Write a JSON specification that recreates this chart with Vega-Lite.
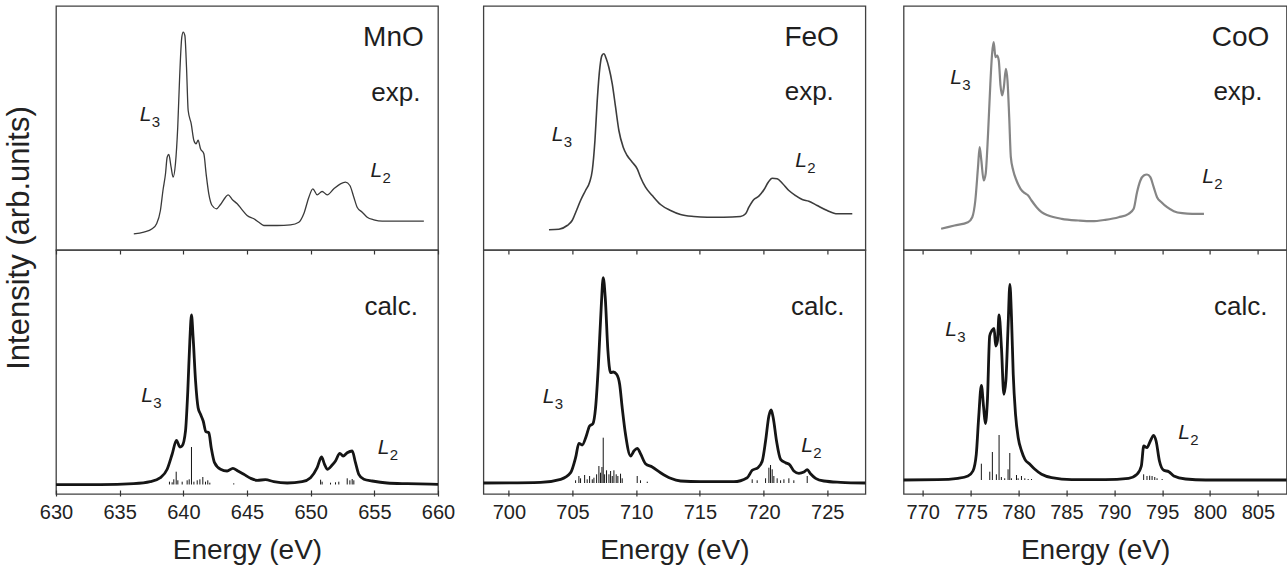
{
"$schema": "https://vega.github.io/schema/vega-lite/v6.json",
"padding": {"left": 3, "top": 5, "right": 2, "bottom": 0},
"background": "white",
"config": {
  "font": "Liberation Sans",
  "view": {"stroke": "#404040", "strokeWidth": 1.3},
  "axis": {"domain": false, "grid": false, "tickColor": "#333333", "tickWidth": 1.2, "labelFontSize": 20, "labelColor": "#222222", "titleFontSize": 28, "titleFontWeight": "normal", "titleColor": "#222222", "labelFlush": false, "labelOverlap": false},
  "text": {"fill": "#1e1e1e", "baseline": "alphabetic", "font": "Liberation Sans"}
},
"datasets": {
"spec": [
{"s":"MnO","k":"exp","E":636.11,"I":16.2},{"s":"MnO","k":"exp","E":636.9,"I":17.8},{"s":"MnO","k":"exp","E":637.55,"I":21.2},{"s":"MnO","k":"exp","E":637.9,"I":26.2},{"s":"MnO","k":"exp","E":638.2,"I":39.5},{"s":"MnO","k":"exp","E":638.4,"I":59.5},{"s":"MnO","k":"exp","E":638.6,"I":76.2},{"s":"MnO","k":"exp","E":638.73,"I":92.8},{"s":"MnO","k":"exp","E":638.86,"I":95.5},{"s":"MnO","k":"exp","E":639.04,"I":82.8},{"s":"MnO","k":"exp","E":639.2,"I":72.8},{"s":"MnO","k":"exp","E":639.38,"I":86.2},{"s":"MnO","k":"exp","E":639.56,"I":122.8},{"s":"MnO","k":"exp","E":639.72,"I":176.2},{"s":"MnO","k":"exp","E":639.88,"I":212.8},{"s":"MnO","k":"exp","E":639.99,"I":217.8},{"s":"MnO","k":"exp","E":640.12,"I":214.5},{"s":"MnO","k":"exp","E":640.25,"I":182.8},{"s":"MnO","k":"exp","E":640.38,"I":139.5},{"s":"MnO","k":"exp","E":640.62,"I":126.2},{"s":"MnO","k":"exp","E":640.83,"I":109.5},{"s":"MnO","k":"exp","E":641.0,"I":106.2},{"s":"MnO","k":"exp","E":641.16,"I":109.8},{"s":"MnO","k":"exp","E":641.35,"I":101.2},{"s":"MnO","k":"exp","E":641.61,"I":96.2},{"s":"MnO","k":"exp","E":641.79,"I":76.2},{"s":"MnO","k":"exp","E":642.0,"I":56.2},{"s":"MnO","k":"exp","E":642.26,"I":44.5},{"s":"MnO","k":"exp","E":642.6,"I":41.2},{"s":"MnO","k":"exp","E":642.92,"I":45.5},{"s":"MnO","k":"exp","E":643.31,"I":52.8},{"s":"MnO","k":"exp","E":643.52,"I":55.2},{"s":"MnO","k":"exp","E":643.84,"I":50.5},{"s":"MnO","k":"exp","E":644.23,"I":46.2},{"s":"MnO","k":"exp","E":644.62,"I":40.2},{"s":"MnO","k":"exp","E":645.01,"I":34.5},{"s":"MnO","k":"exp","E":645.54,"I":31.2},{"s":"MnO","k":"exp","E":645.93,"I":27.8},{"s":"MnO","k":"exp","E":646.32,"I":24.5},{"s":"MnO","k":"exp","E":647.37,"I":24.5},{"s":"MnO","k":"exp","E":648.42,"I":25.2},{"s":"MnO","k":"exp","E":649.07,"I":27.8},{"s":"MnO","k":"exp","E":649.46,"I":36.2},{"s":"MnO","k":"exp","E":649.86,"I":52.8},{"s":"MnO","k":"exp","E":650.17,"I":61.2},{"s":"MnO","k":"exp","E":650.51,"I":55.2},{"s":"MnO","k":"exp","E":650.9,"I":58.5},{"s":"MnO","k":"exp","E":651.3,"I":55.2},{"s":"MnO","k":"exp","E":651.82,"I":61.2},{"s":"MnO","k":"exp","E":652.34,"I":66.2},{"s":"MnO","k":"exp","E":652.74,"I":67.8},{"s":"MnO","k":"exp","E":653.08,"I":64.5},{"s":"MnO","k":"exp","E":653.39,"I":52.8},{"s":"MnO","k":"exp","E":653.65,"I":42.8},{"s":"MnO","k":"exp","E":654.05,"I":37.8},{"s":"MnO","k":"exp","E":654.44,"I":32.8},{"s":"MnO","k":"exp","E":654.96,"I":30.2},{"s":"MnO","k":"exp","E":655.62,"I":28.8},{"s":"MnO","k":"exp","E":657.06,"I":28.8},{"s":"MnO","k":"exp","E":658.89,"I":28.8},
{"s":"MnO","k":"calc","E":630,"I":9.3},{"s":"MnO","k":"calc","E":633.5,"I":9.3},{"s":"MnO","k":"calc","E":636.1,"I":10.3},{"s":"MnO","k":"calc","E":637.4,"I":12.3},{"s":"MnO","k":"calc","E":638.2,"I":16.3},{"s":"MnO","k":"calc","E":638.73,"I":24.7},{"s":"MnO","k":"calc","E":639.12,"I":39.7},{"s":"MnO","k":"calc","E":639.46,"I":53.7},{"s":"MnO","k":"calc","E":639.73,"I":47},{"s":"MnO","k":"calc","E":639.9,"I":48},{"s":"MnO","k":"calc","E":640.17,"I":63},{"s":"MnO","k":"calc","E":640.35,"I":103},{"s":"MnO","k":"calc","E":640.51,"I":153},{"s":"MnO","k":"calc","E":640.64,"I":179},{"s":"MnO","k":"calc","E":640.77,"I":156.3},{"s":"MnO","k":"calc","E":640.96,"I":113},{"s":"MnO","k":"calc","E":641.16,"I":86.3},{"s":"MnO","k":"calc","E":641.35,"I":79.7},{"s":"MnO","k":"calc","E":641.56,"I":73},{"s":"MnO","k":"calc","E":641.77,"I":62.3},{"s":"MnO","k":"calc","E":642.0,"I":61.3},{"s":"MnO","k":"calc","E":642.19,"I":46.3},{"s":"MnO","k":"calc","E":642.45,"I":31.3},{"s":"MnO","k":"calc","E":642.92,"I":24.7},{"s":"MnO","k":"calc","E":643.44,"I":23},{"s":"MnO","k":"calc","E":643.89,"I":25.7},{"s":"MnO","k":"calc","E":644.28,"I":23},{"s":"MnO","k":"calc","E":644.75,"I":19.7},{"s":"MnO","k":"calc","E":645.28,"I":15.7},{"s":"MnO","k":"calc","E":645.8,"I":13.7},{"s":"MnO","k":"calc","E":646.45,"I":14.3},{"s":"MnO","k":"calc","E":647.1,"I":12.3},{"s":"MnO","k":"calc","E":648.16,"I":11},{"s":"MnO","k":"calc","E":649.33,"I":12.3},{"s":"MnO","k":"calc","E":649.99,"I":16.3},{"s":"MnO","k":"calc","E":650.51,"I":26.3},{"s":"MnO","k":"calc","E":650.85,"I":37},{"s":"MnO","k":"calc","E":651.09,"I":29.7},{"s":"MnO","k":"calc","E":651.3,"I":24.7},{"s":"MnO","k":"calc","E":651.69,"I":29},{"s":"MnO","k":"calc","E":651.95,"I":33},{"s":"MnO","k":"calc","E":652.29,"I":40.7},{"s":"MnO","k":"calc","E":652.55,"I":38},{"s":"MnO","k":"calc","E":652.87,"I":41.3},{"s":"MnO","k":"calc","E":653.26,"I":43},{"s":"MnO","k":"calc","E":653.52,"I":31.3},{"s":"MnO","k":"calc","E":653.78,"I":19.7},{"s":"MnO","k":"calc","E":654.18,"I":14.7},{"s":"MnO","k":"calc","E":654.83,"I":13},{"s":"MnO","k":"calc","E":656.0,"I":11},{"s":"MnO","k":"calc","E":657.6,"I":10.3},{"s":"MnO","k":"calc","E":660,"I":9.7},
{"s":"MnO","k":"stick","E":638.91,"I":12.3},{"s":"MnO","k":"stick","E":639.12,"I":11.7},{"s":"MnO","k":"stick","E":639.25,"I":14.7},{"s":"MnO","k":"stick","E":639.44,"I":22.3},{"s":"MnO","k":"stick","E":639.57,"I":13.7},{"s":"MnO","k":"stick","E":639.91,"I":12.3},{"s":"MnO","k":"stick","E":640.3,"I":13.7},{"s":"MnO","k":"stick","E":640.46,"I":14.7},{"s":"MnO","k":"stick","E":640.64,"I":47},{"s":"MnO","k":"stick","E":640.83,"I":12.3},{"s":"MnO","k":"stick","E":641.09,"I":13.7},{"s":"MnO","k":"stick","E":641.3,"I":14.7},{"s":"MnO","k":"stick","E":641.53,"I":17},{"s":"MnO","k":"stick","E":641.74,"I":12.3},{"s":"MnO","k":"stick","E":641.92,"I":13.7},{"s":"MnO","k":"stick","E":642.08,"I":11.3},{"s":"MnO","k":"stick","E":643.96,"I":10.7},{"s":"MnO","k":"stick","E":650.78,"I":14.3},{"s":"MnO","k":"stick","E":650.9,"I":12.3},{"s":"MnO","k":"stick","E":651.56,"I":11.3},{"s":"MnO","k":"stick","E":651.95,"I":11.7},{"s":"MnO","k":"stick","E":652.21,"I":12.3},{"s":"MnO","k":"stick","E":652.87,"I":15.7},{"s":"MnO","k":"stick","E":653.08,"I":13.7},{"s":"MnO","k":"stick","E":653.26,"I":15},{"s":"MnO","k":"stick","E":653.39,"I":13.7},
{"s":"FeO","k":"exp","E":703.15,"I":20.2},{"s":"FeO","k":"exp","E":703.93,"I":20.8},{"s":"FeO","k":"exp","E":704.58,"I":24.5},{"s":"FeO","k":"exp","E":704.97,"I":29.5},{"s":"FeO","k":"exp","E":705.31,"I":39.5},{"s":"FeO","k":"exp","E":705.63,"I":49.5},{"s":"FeO","k":"exp","E":706.02,"I":59.5},{"s":"FeO","k":"exp","E":706.34,"I":67.8},{"s":"FeO","k":"exp","E":706.55,"I":79.5},{"s":"FeO","k":"exp","E":706.76,"I":109.5},{"s":"FeO","k":"exp","E":706.94,"I":149.5},{"s":"FeO","k":"exp","E":707.15,"I":182.8},{"s":"FeO","k":"exp","E":707.31,"I":194.5},{"s":"FeO","k":"exp","E":707.46,"I":196.2},{"s":"FeO","k":"exp","E":707.65,"I":191.2},{"s":"FeO","k":"exp","E":707.85,"I":182.8},{"s":"FeO","k":"exp","E":708.12,"I":166.2},{"s":"FeO","k":"exp","E":708.38,"I":142.8},{"s":"FeO","k":"exp","E":708.64,"I":119.5},{"s":"FeO","k":"exp","E":708.98,"I":102.8},{"s":"FeO","k":"exp","E":709.29,"I":94.5},{"s":"FeO","k":"exp","E":709.69,"I":87.8},{"s":"FeO","k":"exp","E":710.08,"I":81.2},{"s":"FeO","k":"exp","E":710.34,"I":72.8},{"s":"FeO","k":"exp","E":710.73,"I":62.8},{"s":"FeO","k":"exp","E":711.26,"I":54.5},{"s":"FeO","k":"exp","E":711.91,"I":45.5},{"s":"FeO","k":"exp","E":712.7,"I":39.5},{"s":"FeO","k":"exp","E":713.48,"I":35.5},{"s":"FeO","k":"exp","E":714.53,"I":33.5},{"s":"FeO","k":"exp","E":715.58,"I":32.8},{"s":"FeO","k":"exp","E":716.88,"I":32.8},{"s":"FeO","k":"exp","E":718.19,"I":33.5},{"s":"FeO","k":"exp","E":718.59,"I":36.2},{"s":"FeO","k":"exp","E":718.85,"I":42.8},{"s":"FeO","k":"exp","E":719.24,"I":50.5},{"s":"FeO","k":"exp","E":719.63,"I":53.8},{"s":"FeO","k":"exp","E":720.03,"I":60.2},{"s":"FeO","k":"exp","E":720.37,"I":67.8},{"s":"FeO","k":"exp","E":720.68,"I":71.8},{"s":"FeO","k":"exp","E":721.07,"I":71.2},{"s":"FeO","k":"exp","E":721.47,"I":66.8},{"s":"FeO","k":"exp","E":721.99,"I":59.5},{"s":"FeO","k":"exp","E":722.51,"I":54.5},{"s":"FeO","k":"exp","E":723.04,"I":50.5},{"s":"FeO","k":"exp","E":723.56,"I":48.8},{"s":"FeO","k":"exp","E":724.21,"I":44.5},{"s":"FeO","k":"exp","E":725.0,"I":39.5},{"s":"FeO","k":"exp","E":725.79,"I":36.2},{"s":"FeO","k":"exp","E":726.97,"I":36.2},
{"s":"FeO","k":"calc","E":698,"I":11},{"s":"FeO","k":"calc","E":702.5,"I":11.7},{"s":"FeO","k":"calc","E":704.07,"I":14.7},{"s":"FeO","k":"calc","E":704.85,"I":21.3},{"s":"FeO","k":"calc","E":705.24,"I":36.3},{"s":"FeO","k":"calc","E":705.5,"I":50.7},{"s":"FeO","k":"calc","E":705.76,"I":49},{"s":"FeO","k":"calc","E":706.08,"I":58},{"s":"FeO","k":"calc","E":706.34,"I":68},{"s":"FeO","k":"calc","E":706.6,"I":70.3},{"s":"FeO","k":"calc","E":706.81,"I":86.3},{"s":"FeO","k":"calc","E":707.02,"I":126.3},{"s":"FeO","k":"calc","E":707.25,"I":186.3},{"s":"FeO","k":"calc","E":707.41,"I":216.3},{"s":"FeO","k":"calc","E":707.57,"I":196.3},{"s":"FeO","k":"calc","E":707.78,"I":143},{"s":"FeO","k":"calc","E":707.99,"I":121.3},{"s":"FeO","k":"calc","E":708.2,"I":122},{"s":"FeO","k":"calc","E":708.46,"I":119.7},{"s":"FeO","k":"calc","E":708.7,"I":109.7},{"s":"FeO","k":"calc","E":708.9,"I":86.3},{"s":"FeO","k":"calc","E":709.16,"I":59.7},{"s":"FeO","k":"calc","E":709.56,"I":38},{"s":"FeO","k":"calc","E":709.82,"I":43},{"s":"FeO","k":"calc","E":710.08,"I":45.7},{"s":"FeO","k":"calc","E":710.34,"I":40.3},{"s":"FeO","k":"calc","E":710.73,"I":30.3},{"s":"FeO","k":"calc","E":711.26,"I":27},{"s":"FeO","k":"calc","E":711.91,"I":21.3},{"s":"FeO","k":"calc","E":712.7,"I":15.7},{"s":"FeO","k":"calc","E":713.48,"I":13},{"s":"FeO","k":"calc","E":715.05,"I":12.3},{"s":"FeO","k":"calc","E":717.67,"I":12.3},{"s":"FeO","k":"calc","E":718.72,"I":16.3},{"s":"FeO","k":"calc","E":719.11,"I":23.7},{"s":"FeO","k":"calc","E":719.56,"I":26.3},{"s":"FeO","k":"calc","E":719.9,"I":33},{"s":"FeO","k":"calc","E":720.16,"I":53},{"s":"FeO","k":"calc","E":720.42,"I":78},{"s":"FeO","k":"calc","E":720.6,"I":84},{"s":"FeO","k":"calc","E":720.76,"I":76.3},{"s":"FeO","k":"calc","E":721.02,"I":53},{"s":"FeO","k":"calc","E":721.34,"I":34.7},{"s":"FeO","k":"calc","E":721.73,"I":31.3},{"s":"FeO","k":"calc","E":722.07,"I":29},{"s":"FeO","k":"calc","E":722.38,"I":23},{"s":"FeO","k":"calc","E":722.78,"I":20.7},{"s":"FeO","k":"calc","E":723.17,"I":22},{"s":"FeO","k":"calc","E":723.43,"I":24.3},{"s":"FeO","k":"calc","E":723.69,"I":20.3},{"s":"FeO","k":"calc","E":724.09,"I":15.7},{"s":"FeO","k":"calc","E":724.74,"I":13},{"s":"FeO","k":"calc","E":726.05,"I":11.7},{"s":"FeO","k":"calc","E":728,"I":11},
{"s":"FeO","k":"stick","E":705.24,"I":13.7},{"s":"FeO","k":"stick","E":705.5,"I":18},{"s":"FeO","k":"stick","E":705.63,"I":15.7},{"s":"FeO","k":"stick","E":705.95,"I":19},{"s":"FeO","k":"stick","E":706.15,"I":14.7},{"s":"FeO","k":"stick","E":706.34,"I":18},{"s":"FeO","k":"stick","E":706.55,"I":14.7},{"s":"FeO","k":"stick","E":706.68,"I":16.3},{"s":"FeO","k":"stick","E":706.89,"I":19.7},{"s":"FeO","k":"stick","E":707.07,"I":28},{"s":"FeO","k":"stick","E":707.2,"I":21.3},{"s":"FeO","k":"stick","E":707.31,"I":27},{"s":"FeO","k":"stick","E":707.41,"I":56.3},{"s":"FeO","k":"stick","E":707.52,"I":19.7},{"s":"FeO","k":"stick","E":707.67,"I":23.7},{"s":"FeO","k":"stick","E":707.86,"I":19.7},{"s":"FeO","k":"stick","E":707.99,"I":23},{"s":"FeO","k":"stick","E":708.12,"I":18},{"s":"FeO","k":"stick","E":708.25,"I":23.7},{"s":"FeO","k":"stick","E":708.43,"I":19.7},{"s":"FeO","k":"stick","E":708.56,"I":18},{"s":"FeO","k":"stick","E":708.77,"I":20.3},{"s":"FeO","k":"stick","E":708.9,"I":15.7},{"s":"FeO","k":"stick","E":710.08,"I":18},{"s":"FeO","k":"stick","E":710.34,"I":13.7},{"s":"FeO","k":"stick","E":710.87,"I":12.3},{"s":"FeO","k":"stick","E":719.11,"I":14.7},{"s":"FeO","k":"stick","E":719.5,"I":13.7},{"s":"FeO","k":"stick","E":720.16,"I":15.7},{"s":"FeO","k":"stick","E":720.42,"I":26.3},{"s":"FeO","k":"stick","E":720.55,"I":29},{"s":"FeO","k":"stick","E":720.68,"I":24.7},{"s":"FeO","k":"stick","E":720.81,"I":18},{"s":"FeO","k":"stick","E":721.07,"I":15.7},{"s":"FeO","k":"stick","E":721.34,"I":13.7},{"s":"FeO","k":"stick","E":721.6,"I":14.7},{"s":"FeO","k":"stick","E":721.99,"I":15.7},{"s":"FeO","k":"stick","E":722.38,"I":13.7},{"s":"FeO","k":"stick","E":723.43,"I":18},
{"s":"CoO","k":"exp","E":771.92,"I":21.2},{"s":"CoO","k":"exp","E":773.32,"I":24.5},{"s":"CoO","k":"exp","E":774.72,"I":27.8},{"s":"CoO","k":"exp","E":775.17,"I":32.8},{"s":"CoO","k":"exp","E":775.49,"I":49.5},{"s":"CoO","k":"exp","E":775.77,"I":82.8},{"s":"CoO","k":"exp","E":775.94,"I":102.8},{"s":"CoO","k":"exp","E":776.12,"I":89.5},{"s":"CoO","k":"exp","E":776.36,"I":69.5},{"s":"CoO","k":"exp","E":776.57,"I":76.2},{"s":"CoO","k":"exp","E":776.82,"I":116.2},{"s":"CoO","k":"exp","E":777.06,"I":166.2},{"s":"CoO","k":"exp","E":777.24,"I":196.2},{"s":"CoO","k":"exp","E":777.41,"I":207.8},{"s":"CoO","k":"exp","E":777.59,"I":192.8},{"s":"CoO","k":"exp","E":777.77,"I":194.5},{"s":"CoO","k":"exp","E":777.94,"I":189.5},{"s":"CoO","k":"exp","E":778.12,"I":164.5},{"s":"CoO","k":"exp","E":778.29,"I":154.5},{"s":"CoO","k":"exp","E":778.47,"I":162.8},{"s":"CoO","k":"exp","E":778.68,"I":181.2},{"s":"CoO","k":"exp","E":778.85,"I":169.5},{"s":"CoO","k":"exp","E":779.03,"I":132.8},{"s":"CoO","k":"exp","E":779.2,"I":92.8},{"s":"CoO","k":"exp","E":779.45,"I":79.5},{"s":"CoO","k":"exp","E":779.79,"I":69.5},{"s":"CoO","k":"exp","E":780.21,"I":61.2},{"s":"CoO","k":"exp","E":780.67,"I":56.8},{"s":"CoO","k":"exp","E":781.01,"I":54.5},{"s":"CoO","k":"exp","E":781.36,"I":49.5},{"s":"CoO","k":"exp","E":781.89,"I":42.8},{"s":"CoO","k":"exp","E":782.41,"I":37.8},{"s":"CoO","k":"exp","E":783.11,"I":34.5},{"s":"CoO","k":"exp","E":784.51,"I":31.2},{"s":"CoO","k":"exp","E":786.26,"I":29.5},{"s":"CoO","k":"exp","E":787.66,"I":28.8},{"s":"CoO","k":"exp","E":789.06,"I":30.2},{"s":"CoO","k":"exp","E":790.46,"I":32.8},{"s":"CoO","k":"exp","E":791.5,"I":36.2},{"s":"CoO","k":"exp","E":792.03,"I":41.2},{"s":"CoO","k":"exp","E":792.38,"I":57.8},{"s":"CoO","k":"exp","E":792.73,"I":69.5},{"s":"CoO","k":"exp","E":793.08,"I":74.5},{"s":"CoO","k":"exp","E":793.42,"I":75.5},{"s":"CoO","k":"exp","E":793.77,"I":72.8},{"s":"CoO","k":"exp","E":794.12,"I":62.8},{"s":"CoO","k":"exp","E":794.47,"I":52.8},{"s":"CoO","k":"exp","E":794.93,"I":47.8},{"s":"CoO","k":"exp","E":795.52,"I":42.8},{"s":"CoO","k":"exp","E":796.22,"I":38.8},{"s":"CoO","k":"exp","E":797.1,"I":36.8},{"s":"CoO","k":"exp","E":798.15,"I":36.2},{"s":"CoO","k":"exp","E":799.37,"I":36.2},
{"s":"CoO","k":"calc","E":768,"I":14},{"s":"CoO","k":"calc","E":771.57,"I":14.3},{"s":"CoO","k":"calc","E":773.67,"I":15.7},{"s":"CoO","k":"calc","E":774.72,"I":18},{"s":"CoO","k":"calc","E":775.24,"I":23},{"s":"CoO","k":"calc","E":775.59,"I":39.7},{"s":"CoO","k":"calc","E":775.84,"I":76.3},{"s":"CoO","k":"calc","E":776.12,"I":108.7},{"s":"CoO","k":"calc","E":776.36,"I":86.3},{"s":"CoO","k":"calc","E":776.54,"I":70.3},{"s":"CoO","k":"calc","E":776.75,"I":93},{"s":"CoO","k":"calc","E":776.99,"I":158},{"s":"CoO","k":"calc","E":777.24,"I":163.7},{"s":"CoO","k":"calc","E":777.45,"I":165.7},{"s":"CoO","k":"calc","E":777.62,"I":148},{"s":"CoO","k":"calc","E":777.8,"I":153},{"s":"CoO","k":"calc","E":777.97,"I":179},{"s":"CoO","k":"calc","E":778.22,"I":146.3},{"s":"CoO","k":"calc","E":778.47,"I":99.7},{"s":"CoO","k":"calc","E":778.68,"I":113},{"s":"CoO","k":"calc","E":778.92,"I":169.7},{"s":"CoO","k":"calc","E":779.1,"I":209.7},{"s":"CoO","k":"calc","E":779.27,"I":176.3},{"s":"CoO","k":"calc","E":779.45,"I":119.7},{"s":"CoO","k":"calc","E":779.69,"I":79.7},{"s":"CoO","k":"calc","E":779.97,"I":56.3},{"s":"CoO","k":"calc","E":780.32,"I":43},{"s":"CoO","k":"calc","E":780.67,"I":34.7},{"s":"CoO","k":"calc","E":781.19,"I":29.7},{"s":"CoO","k":"calc","E":781.71,"I":24.7},{"s":"CoO","k":"calc","E":782.41,"I":19.7},{"s":"CoO","k":"calc","E":783.46,"I":16.3},{"s":"CoO","k":"calc","E":785.56,"I":14.3},{"s":"CoO","k":"calc","E":789.06,"I":14.3},{"s":"CoO","k":"calc","E":791.5,"I":15.7},{"s":"CoO","k":"calc","E":792.38,"I":19.7},{"s":"CoO","k":"calc","E":792.83,"I":28},{"s":"CoO","k":"calc","E":793.08,"I":48},{"s":"CoO","k":"calc","E":793.42,"I":46.3},{"s":"CoO","k":"calc","E":793.77,"I":53},{"s":"CoO","k":"calc","E":794.12,"I":58.7},{"s":"CoO","k":"calc","E":794.37,"I":53},{"s":"CoO","k":"calc","E":794.72,"I":33},{"s":"CoO","k":"calc","E":795.17,"I":23.7},{"s":"CoO","k":"calc","E":795.7,"I":22.3},{"s":"CoO","k":"calc","E":796.22,"I":18},{"s":"CoO","k":"calc","E":797.45,"I":15},{"s":"CoO","k":"calc","E":799.55,"I":14},{"s":"CoO","k":"calc","E":808,"I":14},
{"s":"CoO","k":"stick","E":776.12,"I":30.3},{"s":"CoO","k":"stick","E":777.0,"I":22.3},{"s":"CoO","k":"stick","E":777.27,"I":42},{"s":"CoO","k":"stick","E":777.69,"I":19.7},{"s":"CoO","k":"stick","E":777.97,"I":59},{"s":"CoO","k":"stick","E":778.21,"I":17},{"s":"CoO","k":"stick","E":778.56,"I":15.7},{"s":"CoO","k":"stick","E":778.91,"I":24.7},{"s":"CoO","k":"stick","E":779.09,"I":41},{"s":"CoO","k":"stick","E":779.26,"I":15.7},{"s":"CoO","k":"stick","E":779.79,"I":19},{"s":"CoO","k":"stick","E":779.96,"I":15.7},{"s":"CoO","k":"stick","E":780.31,"I":18},{"s":"CoO","k":"stick","E":780.66,"I":15.7},{"s":"CoO","k":"stick","E":781.01,"I":15},{"s":"CoO","k":"stick","E":781.36,"I":15},{"s":"CoO","k":"stick","E":793.07,"I":19.7},{"s":"CoO","k":"stick","E":793.42,"I":18},{"s":"CoO","k":"stick","E":793.7,"I":18.3},{"s":"CoO","k":"stick","E":793.95,"I":18},{"s":"CoO","k":"stick","E":794.23,"I":17},{"s":"CoO","k":"stick","E":794.47,"I":15.7},{"s":"CoO","k":"stick","E":795.0,"I":15}
],
"labels": [
{"s":"MnO","k":"exp","r":"n","t":"MnO","E":658.88,"I":203.8},
{"s":"MnO","k":"exp","r":"m","t":"exp.","E":658.62,"I":149.5},
{"s":"MnO","k":"exp","r":"L","t":"L","u":"3","E":636.58,"I":129.5},
{"s":"MnO","k":"exp","r":"L","t":"L","u":"2","E":654.7,"I":72.8},
{"s":"MnO","k":"calc","r":"m","t":"calc.","E":658.42,"I":179},
{"s":"MnO","k":"calc","r":"L","t":"L","u":"3","E":636.69,"I":92.3},
{"s":"MnO","k":"calc","r":"L","t":"L","u":"2","E":655.27,"I":39.7},
{"s":"FeO","k":"exp","r":"n","t":"FeO","E":725.92,"I":203.8},
{"s":"FeO","k":"exp","r":"m","t":"exp.","E":725.52,"I":150.2},
{"s":"FeO","k":"exp","r":"L","t":"L","u":"3","E":703.36,"I":109.5},
{"s":"FeO","k":"exp","r":"L","t":"L","u":"2","E":722.5,"I":82.8},
{"s":"FeO","k":"calc","r":"m","t":"calc.","E":726.36,"I":179},
{"s":"FeO","k":"calc","r":"L","t":"L","u":"3","E":702.67,"I":91.3},
{"s":"FeO","k":"calc","r":"L","t":"L","u":"2","E":722.96,"I":42},
{"s":"CoO","k":"exp","r":"n","t":"CoO","E":806.19,"I":203.8},
{"s":"CoO","k":"exp","r":"m","t":"exp.","E":805.49,"I":150.2},
{"s":"CoO","k":"exp","r":"L","t":"L","u":"3","E":772.87,"I":166.2},
{"s":"CoO","k":"exp","r":"L","t":"L","u":"2","E":799.2,"I":66.8},
{"s":"CoO","k":"calc","r":"m","t":"calc.","E":806.01,"I":179},
{"s":"CoO","k":"calc","r":"L","t":"L","u":"3","E":772.34,"I":158},
{"s":"CoO","k":"calc","r":"L","t":"L","u":"2","E":796.68,"I":54.7}
]
},
"hconcat": [
{
 "title": {"text": "Intensity (arb.units)", "orient": "left", "anchor": "middle", "fontSize": 31, "fontWeight": "normal", "color": "#222222", "offset": 3, "dx": 47},
 "spacing": 0,
 "bounds": "flush",
 "vconcat": [
  {"width": 382, "height": 244,
   "layer": [
    {"data": {"name": "spec"}, "transform": [{"filter": "datum.s==='MnO' && datum.k==='exp'"}],
     "mark": {"type": "line", "interpolate": "monotone", "stroke": "#3a3a3a", "strokeWidth": 1.3},
     "encoding": {"x": {"field": "E", "type": "quantitative", "scale": {"domain": [630, 660], "nice": false, "zero": false}, "axis": {"orient": "bottom", "values": [630,635,640,645,650,655,660], "labels": false, "title": null, "offset": -4, "tickSize": 4}},
                  "y": {"field": "I", "type": "quantitative", "scale": {"domain": [0, 244], "nice": false, "zero": false}, "axis": null}}},
    {"data": {"name": "labels"}, "transform": [{"filter": "datum.s==='MnO' && datum.k==='exp' && datum.r==='n'"}],
     "mark": {"type": "text", "align": "right", "fontSize": 28},
     "encoding": {"x": {"field": "E", "type": "quantitative", "axis": null}, "y": {"field": "I", "type": "quantitative", "axis": null}, "text": {"field": "t"}}},
    {"data": {"name": "labels"}, "transform": [{"filter": "datum.s==='MnO' && datum.k==='exp' && datum.r==='m'"}],
     "mark": {"type": "text", "align": "right", "fontSize": 26},
     "encoding": {"x": {"field": "E", "type": "quantitative", "axis": null}, "y": {"field": "I", "type": "quantitative", "axis": null}, "text": {"field": "t"}}},
    {"data": {"name": "labels"}, "transform": [{"filter": "datum.s==='MnO' && datum.k==='exp' && datum.r==='L'"}],
     "mark": {"type": "text", "align": "left", "fontSize": 21, "fontStyle": "italic"},
     "encoding": {"x": {"field": "E", "type": "quantitative", "axis": null}, "y": {"field": "I", "type": "quantitative", "axis": null}, "text": {"field": "t"}}},
    {"data": {"name": "labels"}, "transform": [{"filter": "datum.s==='MnO' && datum.k==='exp' && datum.r==='L'"}],
     "mark": {"type": "text", "align": "left", "fontSize": 15, "dx": 12, "dy": 6},
     "encoding": {"x": {"field": "E", "type": "quantitative", "axis": null}, "y": {"field": "I", "type": "quantitative", "axis": null}, "text": {"field": "u"}}}
   ]},
  {"width": 382, "height": 244,
   "resolve": {"axis": {"x": "independent"}},
   "layer": [
    {"data": {"name": "spec"}, "transform": [{"filter": "datum.s==='MnO' && datum.k==='stick'"}],
     "mark": {"type": "rule", "stroke": "#151515", "strokeWidth": 1},
     "encoding": {"x": {"field": "E", "type": "quantitative", "scale": {"domain": [630, 660], "nice": false, "zero": false}, "axis": {"orient": "top", "values": [630,635,640,645,650,655,660], "labels": false, "title": null, "offset": -4, "tickSize": 4}},
                  "y": {"field": "I", "type": "quantitative", "scale": {"domain": [0, 244], "nice": false, "zero": false}, "axis": null},
                  "y2": {"datum": 9.5}}},
    {"data": {"name": "spec"}, "transform": [{"filter": "datum.s==='MnO' && datum.k==='calc'"}],
     "mark": {"type": "line", "interpolate": "monotone", "stroke": "#151515", "strokeWidth": 2.8},
     "encoding": {"x": {"field": "E", "type": "quantitative", "axis": {"orient": "bottom", "values": [630,635,640,645,650,655,660], "title": "Energy (eV)", "offset": -4, "tickSize": 6, "labelPadding": 6, "titlePadding": 14}},
                  "y": {"field": "I", "type": "quantitative", "axis": null}}},
    {"data": {"name": "labels"}, "transform": [{"filter": "datum.s==='MnO' && datum.k==='calc' && datum.r==='m'"}],
     "mark": {"type": "text", "align": "right", "fontSize": 26},
     "encoding": {"x": {"field": "E", "type": "quantitative", "axis": null}, "y": {"field": "I", "type": "quantitative", "axis": null}, "text": {"field": "t"}}},
    {"data": {"name": "labels"}, "transform": [{"filter": "datum.s==='MnO' && datum.k==='calc' && datum.r==='L'"}],
     "mark": {"type": "text", "align": "left", "fontSize": 21, "fontStyle": "italic"},
     "encoding": {"x": {"field": "E", "type": "quantitative", "axis": null}, "y": {"field": "I", "type": "quantitative", "axis": null}, "text": {"field": "t"}}},
    {"data": {"name": "labels"}, "transform": [{"filter": "datum.s==='MnO' && datum.k==='calc' && datum.r==='L'"}],
     "mark": {"type": "text", "align": "left", "fontSize": 15, "dx": 12, "dy": 6},
     "encoding": {"x": {"field": "E", "type": "quantitative", "axis": null}, "y": {"field": "I", "type": "quantitative", "axis": null}, "text": {"field": "u"}}}
   ]}
 ]
},
{
 "spacing": 24.2,
 "hconcat": [
 {
 "spacing": 0,
 "bounds": "flush",
 "vconcat": [
  {"width": 382, "height": 244,
   "layer": [
    {"data": {"name": "spec"}, "transform": [{"filter": "datum.s==='FeO' && datum.k==='exp'"}],
     "mark": {"type": "line", "interpolate": "monotone", "stroke": "#3c3c3c", "strokeWidth": 1.6},
     "encoding": {"x": {"field": "E", "type": "quantitative", "scale": {"domain": [698, 728], "nice": false, "zero": false}, "axis": {"orient": "bottom", "values": [700,705,710,715,720,725], "labels": false, "title": null, "offset": -4, "tickSize": 4}},
                  "y": {"field": "I", "type": "quantitative", "scale": {"domain": [0, 244], "nice": false, "zero": false}, "axis": null}}},
    {"data": {"name": "labels"}, "transform": [{"filter": "datum.s==='FeO' && datum.k==='exp' && datum.r==='n'"}],
     "mark": {"type": "text", "align": "right", "fontSize": 28},
     "encoding": {"x": {"field": "E", "type": "quantitative", "axis": null}, "y": {"field": "I", "type": "quantitative", "axis": null}, "text": {"field": "t"}}},
    {"data": {"name": "labels"}, "transform": [{"filter": "datum.s==='FeO' && datum.k==='exp' && datum.r==='m'"}],
     "mark": {"type": "text", "align": "right", "fontSize": 26},
     "encoding": {"x": {"field": "E", "type": "quantitative", "axis": null}, "y": {"field": "I", "type": "quantitative", "axis": null}, "text": {"field": "t"}}},
    {"data": {"name": "labels"}, "transform": [{"filter": "datum.s==='FeO' && datum.k==='exp' && datum.r==='L'"}],
     "mark": {"type": "text", "align": "left", "fontSize": 21, "fontStyle": "italic"},
     "encoding": {"x": {"field": "E", "type": "quantitative", "axis": null}, "y": {"field": "I", "type": "quantitative", "axis": null}, "text": {"field": "t"}}},
    {"data": {"name": "labels"}, "transform": [{"filter": "datum.s==='FeO' && datum.k==='exp' && datum.r==='L'"}],
     "mark": {"type": "text", "align": "left", "fontSize": 15, "dx": 12, "dy": 6},
     "encoding": {"x": {"field": "E", "type": "quantitative", "axis": null}, "y": {"field": "I", "type": "quantitative", "axis": null}, "text": {"field": "u"}}}
   ]},
  {"width": 382, "height": 244,
   "resolve": {"axis": {"x": "independent"}},
   "layer": [
    {"data": {"name": "spec"}, "transform": [{"filter": "datum.s==='FeO' && datum.k==='stick'"}],
     "mark": {"type": "rule", "stroke": "#151515", "strokeWidth": 1},
     "encoding": {"x": {"field": "E", "type": "quantitative", "scale": {"domain": [698, 728], "nice": false, "zero": false}, "axis": {"orient": "top", "values": [700,705,710,715,720,725], "labels": false, "title": null, "offset": -4, "tickSize": 4}},
                  "y": {"field": "I", "type": "quantitative", "scale": {"domain": [0, 244], "nice": false, "zero": false}, "axis": null},
                  "y2": {"datum": 11}}},
    {"data": {"name": "spec"}, "transform": [{"filter": "datum.s==='FeO' && datum.k==='calc'"}],
     "mark": {"type": "line", "interpolate": "monotone", "stroke": "#151515", "strokeWidth": 2.8},
     "encoding": {"x": {"field": "E", "type": "quantitative", "axis": {"orient": "bottom", "values": [700,705,710,715,720,725], "title": "Energy (eV)", "offset": -4, "tickSize": 6, "labelPadding": 6, "titlePadding": 14}},
                  "y": {"field": "I", "type": "quantitative", "axis": null}}},
    {"data": {"name": "labels"}, "transform": [{"filter": "datum.s==='FeO' && datum.k==='calc' && datum.r==='m'"}],
     "mark": {"type": "text", "align": "right", "fontSize": 26},
     "encoding": {"x": {"field": "E", "type": "quantitative", "axis": null}, "y": {"field": "I", "type": "quantitative", "axis": null}, "text": {"field": "t"}}},
    {"data": {"name": "labels"}, "transform": [{"filter": "datum.s==='FeO' && datum.k==='calc' && datum.r==='L'"}],
     "mark": {"type": "text", "align": "left", "fontSize": 21, "fontStyle": "italic"},
     "encoding": {"x": {"field": "E", "type": "quantitative", "axis": null}, "y": {"field": "I", "type": "quantitative", "axis": null}, "text": {"field": "t"}}},
    {"data": {"name": "labels"}, "transform": [{"filter": "datum.s==='FeO' && datum.k==='calc' && datum.r==='L'"}],
     "mark": {"type": "text", "align": "left", "fontSize": 15, "dx": 12, "dy": 6},
     "encoding": {"x": {"field": "E", "type": "quantitative", "axis": null}, "y": {"field": "I", "type": "quantitative", "axis": null}, "text": {"field": "u"}}}
   ]}
 ]
 },
 {
 "spacing": 0,
 "bounds": "flush",
 "vconcat": [
  {"width": 383, "height": 244,
   "layer": [
    {"data": {"name": "spec"}, "transform": [{"filter": "datum.s==='CoO' && datum.k==='exp'"}],
     "mark": {"type": "line", "interpolate": "monotone", "stroke": "#858585", "strokeWidth": 2.2},
     "encoding": {"x": {"field": "E", "type": "quantitative", "scale": {"domain": [768, 808], "nice": false, "zero": false}, "axis": {"orient": "bottom", "values": [770,775,780,785,790,795,800,805], "labels": false, "title": null, "offset": -4, "tickSize": 4}},
                  "y": {"field": "I", "type": "quantitative", "scale": {"domain": [0, 244], "nice": false, "zero": false}, "axis": null}}},
    {"data": {"name": "labels"}, "transform": [{"filter": "datum.s==='CoO' && datum.k==='exp' && datum.r==='n'"}],
     "mark": {"type": "text", "align": "right", "fontSize": 28},
     "encoding": {"x": {"field": "E", "type": "quantitative", "axis": null}, "y": {"field": "I", "type": "quantitative", "axis": null}, "text": {"field": "t"}}},
    {"data": {"name": "labels"}, "transform": [{"filter": "datum.s==='CoO' && datum.k==='exp' && datum.r==='m'"}],
     "mark": {"type": "text", "align": "right", "fontSize": 26},
     "encoding": {"x": {"field": "E", "type": "quantitative", "axis": null}, "y": {"field": "I", "type": "quantitative", "axis": null}, "text": {"field": "t"}}},
    {"data": {"name": "labels"}, "transform": [{"filter": "datum.s==='CoO' && datum.k==='exp' && datum.r==='L'"}],
     "mark": {"type": "text", "align": "left", "fontSize": 21, "fontStyle": "italic"},
     "encoding": {"x": {"field": "E", "type": "quantitative", "axis": null}, "y": {"field": "I", "type": "quantitative", "axis": null}, "text": {"field": "t"}}},
    {"data": {"name": "labels"}, "transform": [{"filter": "datum.s==='CoO' && datum.k==='exp' && datum.r==='L'"}],
     "mark": {"type": "text", "align": "left", "fontSize": 15, "dx": 12, "dy": 6},
     "encoding": {"x": {"field": "E", "type": "quantitative", "axis": null}, "y": {"field": "I", "type": "quantitative", "axis": null}, "text": {"field": "u"}}}
   ]},
  {"width": 383, "height": 244,
   "resolve": {"axis": {"x": "independent"}},
   "layer": [
    {"data": {"name": "spec"}, "transform": [{"filter": "datum.s==='CoO' && datum.k==='stick'"}],
     "mark": {"type": "rule", "stroke": "#151515", "strokeWidth": 1},
     "encoding": {"x": {"field": "E", "type": "quantitative", "scale": {"domain": [768, 808], "nice": false, "zero": false}, "axis": {"orient": "top", "values": [770,775,780,785,790,795,800,805], "labels": false, "title": null, "offset": -4, "tickSize": 4}},
                  "y": {"field": "I", "type": "quantitative", "scale": {"domain": [0, 244], "nice": false, "zero": false}, "axis": null},
                  "y2": {"datum": 14}}},
    {"data": {"name": "spec"}, "transform": [{"filter": "datum.s==='CoO' && datum.k==='calc'"}],
     "mark": {"type": "line", "interpolate": "monotone", "stroke": "#151515", "strokeWidth": 2.8},
     "encoding": {"x": {"field": "E", "type": "quantitative", "axis": {"orient": "bottom", "values": [770,775,780,785,790,795,800,805], "title": "Energy (eV)", "offset": -4, "tickSize": 6, "labelPadding": 6, "titlePadding": 14}},
                  "y": {"field": "I", "type": "quantitative", "axis": null}}},
    {"data": {"name": "labels"}, "transform": [{"filter": "datum.s==='CoO' && datum.k==='calc' && datum.r==='m'"}],
     "mark": {"type": "text", "align": "right", "fontSize": 26},
     "encoding": {"x": {"field": "E", "type": "quantitative", "axis": null}, "y": {"field": "I", "type": "quantitative", "axis": null}, "text": {"field": "t"}}},
    {"data": {"name": "labels"}, "transform": [{"filter": "datum.s==='CoO' && datum.k==='calc' && datum.r==='L'"}],
     "mark": {"type": "text", "align": "left", "fontSize": 21, "fontStyle": "italic"},
     "encoding": {"x": {"field": "E", "type": "quantitative", "axis": null}, "y": {"field": "I", "type": "quantitative", "axis": null}, "text": {"field": "t"}}},
    {"data": {"name": "labels"}, "transform": [{"filter": "datum.s==='CoO' && datum.k==='calc' && datum.r==='L'"}],
     "mark": {"type": "text", "align": "left", "fontSize": 15, "dx": 12, "dy": 6},
     "encoding": {"x": {"field": "E", "type": "quantitative", "axis": null}, "y": {"field": "I", "type": "quantitative", "axis": null}, "text": {"field": "u"}}}
   ]}
 ]
 }
 ]
}
],
"spacing": 20.4
}
